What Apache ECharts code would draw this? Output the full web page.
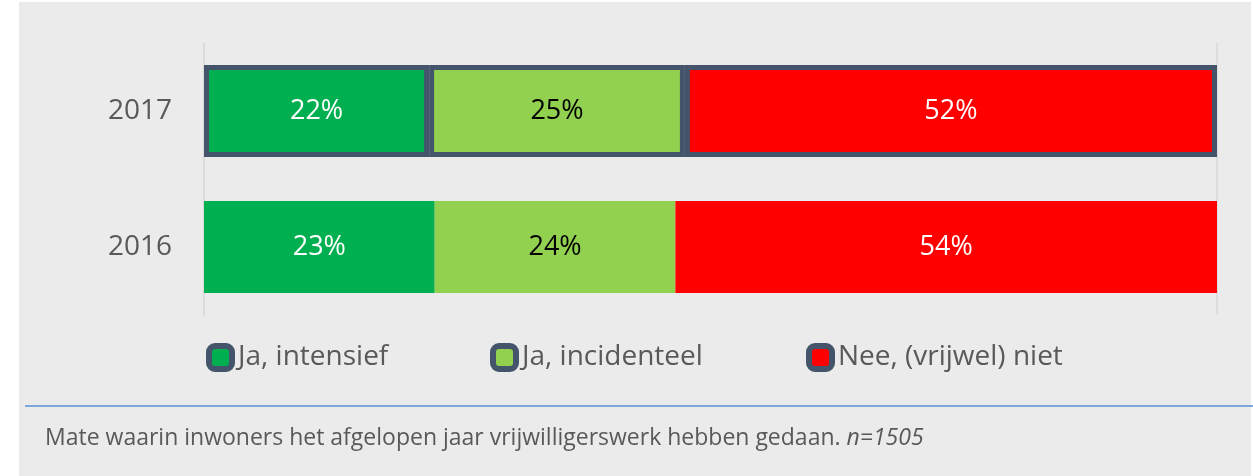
<!DOCTYPE html>
<html>
<head>
<meta charset="utf-8">
<script src="https://cdn.jsdelivr.net/npm/echarts@6/dist/echarts.min.js"></script>
<style>
  html, body { margin: 0; padding: 0; background: #fff; }
  #chart { width: 1253px; height: 476px; }
</style>
</head>
<body>
<div id="chart"></div>
<script>
// data (percentages as shown in the labels)
const years = ['2016', '2017'];
const seriesNames = ['Ja, intensief', 'Ja, incidenteel', 'Nee, (vrijwel) niet'];
const intensief = [23, 22];
const incidenteel = [24, 25];
const niet = [54, 52];
const caption = 'Mate waarin inwoners het afgelopen jaar vrijwilligerswerk hebben gedaan. ';
const captionN = 'n=1505';

const colors = ['#00b050', '#92d050', '#ff0000'];
const labelColors = ['#ffffff', '#000000', '#ffffff'];
const rows = [intensief, incidenteel, niet];
const borderColor = '#44546a';

const chart = echarts.init(document.getElementById('chart'));

// 100% stacked: share of each row total
const totals = years.map((y, i) => rows.reduce((s, r) => s + r[i], 0));

const series = rows.map((row, k) => {
  return {
    name: seriesNames[k],
    type: 'bar',
    stack: 'total',
    barWidth: 92,
    itemStyle: { color: colors[k] },
    label: {
      show: true,
      position: 'inside',
      color: labelColors[k],
      fontSize: 27,
      fontFamily: 'Open Sans',
      formatter: p => row[p.dataIndex] + '%'
    },
    data: row.map((v, i) => {
      const item = { value: v / totals[i] * 100 };
      if (years[i] === '2017') {
        item.itemStyle = { borderColor: borderColor, borderWidth: 5 };
      }
      return item;
    })
  };
});

// legend markers drawn as rich text boxes (dark frame round the colour)
const legendLeft = [206, 490, 806];
const legends = seriesNames.map((name, k) => {
  return {
    data: [name],
    left: legendLeft[k],
    top: 343,
    padding: 0,
    itemWidth: 0,
    itemHeight: 0,
    selectedMode: false,
    formatter: n => '{box|}{t|' + n + '}',
    textStyle: {
      color: '#595959',
      fontSize: 28,
      fontFamily: 'Open Sans',
      lineHeight: 28,
      rich: {
        box: {
          width: 17,
          height: 17,
          backgroundColor: colors[k],
          borderColor: borderColor,
          borderWidth: 6,
          borderRadius: 3
        },
        t: {
          color: '#595959',
          fontSize: 28,
          fontFamily: 'Open Sans',
          lineHeight: 28,
          padding: [0, 0, 0, 9]
        }
      }
    }
  };
});

const option = {
  animation: false,
  color: colors,
  graphic: [
    {
      type: 'rect',
      z: -10,
      shape: { x: 19, y: 2, width: 1232, height: 474 },
      style: { fill: '#ebebeb' }
    },
    {
      type: 'line',
      shape: { x1: 25, y1: 406, x2: 1253, y2: 406 },
      style: { stroke: '#7aa9d9', lineWidth: 2 }
    },
    {
      type: 'text',
      left: 45,
      top: 427,
      style: {
        text: caption + '{i|' + captionN + '}',
        fill: '#595959',
        fontSize: 23,
        fontFamily: 'Open Sans',
        rich: { i: { fontStyle: 'italic', fontSize: 23, fontFamily: 'Open Sans', fill: '#595959' } }
      }
    }
  ],
  grid: {
    left: 204,
    right: 36,
    top: 43,
    height: 272
  },
  legend: legends,
  xAxis: {
    type: 'value',
    min: 0,
    max: 100,
    interval: 100,
    axisLabel: { show: false },
    axisLine: { show: false },
    axisTick: { show: false },
    splitLine: { show: true, lineStyle: { color: '#d9d9d9', width: 1.5 } }
  },
  yAxis: {
    type: 'category',
    data: years,
    axisTick: { show: false },
    axisLine: { show: true, lineStyle: { color: '#d9d9d9', width: 1.5 } },
    axisLabel: {
      color: '#595959',
      fontSize: 28,
      fontFamily: 'Open Sans',
      margin: 32
    }
  },
  series: series
};

chart.setOption(option);
</script>
</body>
</html>
